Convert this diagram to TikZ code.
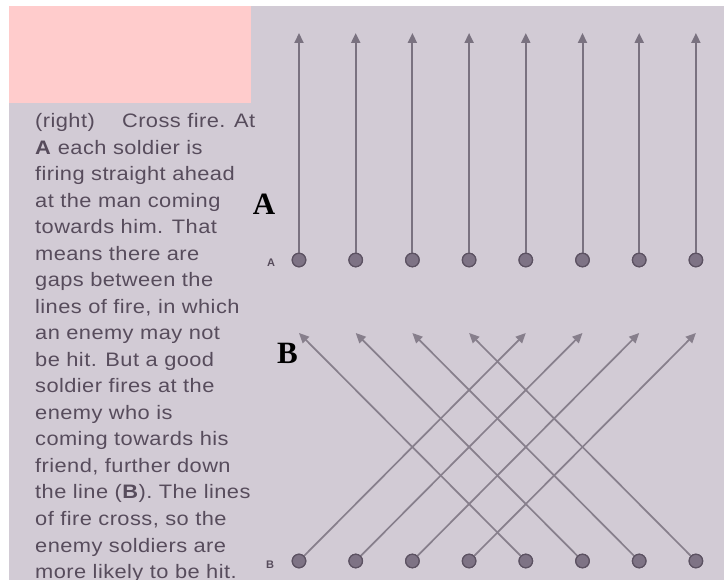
\documentclass[tikz,border=0pt]{standalone}
\usepackage{fontspec}
\usetikzlibrary{arrows.meta}
\newfontfamily\capfont[FakeStretch=1.12,LetterSpace=2.2]{Liberation Sans}
\newfontfamily\bigserif{Liberation Serif}
\newfontfamily\smallsans{Liberation Sans}
\definecolor{paper}{HTML}{D2CBD5}
\definecolor{ink}{HTML}{574C5C}
\definecolor{pinkbox}{HTML}{FFCCCC}
\definecolor{fireA}{HTML}{7A7280}
\definecolor{fireB}{HTML}{877F8C}
\definecolor{dotfill}{HTML}{7E7385}
\definecolor{dotline}{HTML}{5C5262}
\tikzset{
  capline/.style={anchor=base west,inner sep=0pt,text=ink,font=\capfont\fontsize{19.5}{20}\selectfont},
  soldier/.style={circle,fill=dotfill,draw=dotline,line width=1.2pt,minimum size=13.5pt,inner sep=0pt},
  fire/.style={line width=2pt,-{Triangle[width=9pt,length=10pt]}},
  bigletter/.style={inner sep=0pt,text=black,font=\bigserif\bfseries\fontsize{31}{31}\selectfont},
  rowletter/.style={inner sep=0pt,text=ink,font=\smallsans\bfseries\fontsize{11}{11}\selectfont}
}
\begin{document}
\begin{tikzpicture}[x=1pt,y=-1pt]
\useasboundingbox (0,0) rectangle (724,580);
\fill[white] (0,0) rectangle (724,580);
\fill[paper] (9,6) rectangle (724,580);
% caption text
\foreach \t [count=\i] in {%
  {(right)\hspace*{1.4em}Cross fire. At},
  {\textbf{A} each soldier is},
  {firing straight ahead},
  {at the man coming},
  {towards him. That},
  {means there are},
  {gaps between the},
  {lines of fire, in which},
  {an enemy may not},
  {be hit. But a good},
  {soldier fires at the},
  {enemy who is},
  {coming towards his},
  {friend, further down},
  {the line (\textbf{B}). The lines},
  {of fire cross, so the},
  {enemy soldiers are},
  {more likely to be hit.}}
  \node[capline] (line\i) at (35,{128+26.5*(\i-1)}) {\t};
\fill[pinkbox] (9,6) rectangle (251,103);
% row A
\foreach \i in {1,...,8} {
  \coordinate (ta\i) at ({299+56.7*(\i-1)},33);
  \node[soldier] (a\i) at ({299+56.7*(\i-1)},260) {};
}
\foreach \i in {1,...,8} \draw[fire,fireA] (a\i.center) -- (ta\i);
\foreach \i in {1,...,8} \node[soldier] at (a\i) {};
% row B
\foreach \i in {1,...,8} {
  \coordinate (tb\i) at ({299+56.7*(\i-1)},333);
  \node[soldier] (b\i) at ({299+56.7*(\i-1)},561) {};
}
\foreach \i/\j in {1/5,2/6,3/7,4/8,5/1,6/2,7/3,8/4}
  \draw[fire,fireB,line width=1.7pt] (b\i.center) -- (tb\j);
\foreach \i in {1,...,8} \node[soldier] at (b\i) {};
% labels
\node[bigletter] (bigA) at (264,204.5) {A};
\node[bigletter] (bigB) at (287.5,353.5) {B};
\node[rowletter] (smallA) at (271,263) {A};
\node[rowletter] (smallB) at (270,565) {B};
\end{tikzpicture}
\end{document}
